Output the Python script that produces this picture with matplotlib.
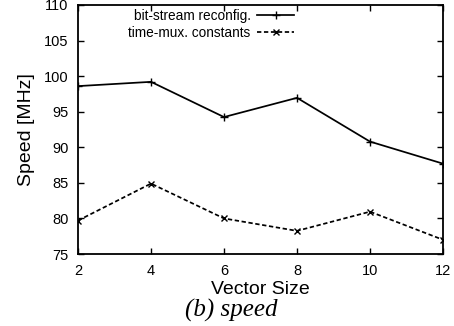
import matplotlib
matplotlib.use("Agg")
import matplotlib.pyplot as plt

vector_size = [2, 4, 6, 8, 10, 12]
bitstream = [98.6, 99.2, 94.25, 96.95, 90.8, 87.7]
timemux = [79.7, 84.9, 80.0, 78.25, 80.95, 77.0]
xticks = [2, 4, 6, 8, 10, 12]
yticks = [75, 80, 85, 90, 95, 100, 105, 110]

plt.rcParams['font.family'] = ['Liberation Sans', 'DejaVu Sans']

fig = plt.figure(figsize=(4.54, 3.26), dpi=100)
ax = fig.add_axes([78/454, 1-254/326, (443-78)/454, (254-5)/326])

ax.plot(vector_size, bitstream, color='black', lw=1.25, marker='+', ms=6, mew=1.0,
        label='bit-stream reconfig.')
ax.plot(vector_size, timemux, color='black', lw=1.25, ls=(0, (2.5, 1.5)), marker='x', ms=4.5, mew=1.0,
        label='time-mux. constants')

ax.set_xlim(2, 12)
ax.set_ylim(75, 110)
ax.set_xticks(xticks)
ax.set_yticks(yticks)
ax.tick_params(direction='in', top=True, right=True, labelsize=10.5, length=4, width=1)
ax.tick_params(axis='y', pad=7)
ax.tick_params(axis='x', pad=7)
for s in ax.spines.values():
    s.set_linewidth(1.3)

ax.set_xlabel('Vector Size', fontsize=14, labelpad=2.5)
ax.set_ylabel('Speed [MHz]', fontsize=14, labelpad=6)

leg = ax.legend(loc='upper right', bbox_to_anchor=(0.592, 0.985), frameon=False, markerfirst=False,
                fontsize=9.8, handlelength=2.7, handletextpad=0.5, labelspacing=0.25, borderpad=0,
                borderaxespad=0)
for t in leg.get_texts():
    t.set_ha('right')

fig.text(0.51, 0.028, '(b) speed', fontsize=18, family='Liberation Serif', style='italic', ha='center')

fig.savefig('out.png', dpi=100)
